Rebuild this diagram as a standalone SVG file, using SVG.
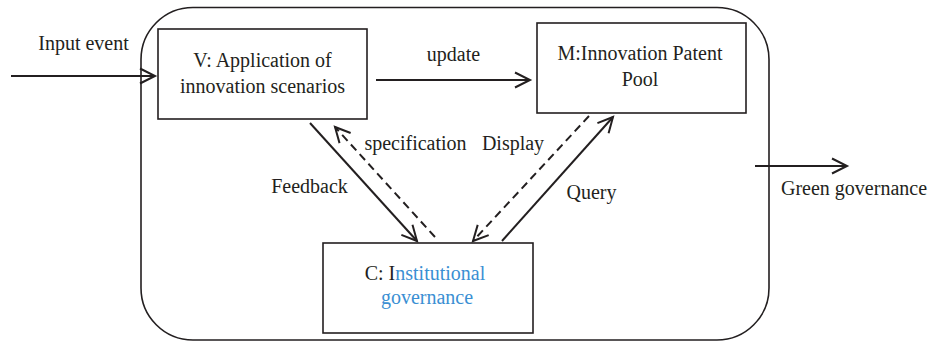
<svg xmlns="http://www.w3.org/2000/svg" width="932" height="345" viewBox="0 0 932 345">
  <style>
    .box { fill: #ffffff; stroke: #231f20; stroke-width: 1.6; }
    .frame { fill: none; stroke: #231f20; stroke-width: 1.6; }
    .t { font-family: "Liberation Serif", "Times New Roman", serif; font-size: 20px; fill: #231f20; text-anchor: middle; }
    .blue { fill: #3a8fd3; }
    .link { fill: none; stroke: #231f20; stroke-width: 2; marker-end: url(#open); }
    .dash { stroke-dasharray: 8 5; }
  </style>
  <defs>
    <marker id="open" markerUnits="userSpaceOnUse" markerWidth="20" markerHeight="20" viewBox="-17 -10 20 20" refX="0" refY="0" orient="auto">
      <path d="M-15,-7.5 L0,0 L-15,7.5" fill="none" stroke="#231f20" stroke-width="2" stroke-dasharray="none"/>
    </marker>
  </defs>

  <!-- system boundary -->
  <rect id="boundary" class="frame" x="141" y="7.5" width="628" height="332.5" rx="52" ry="52"/>

  <!-- connectors -->
  <g id="connectors">
    <line class="link" x1="11" y1="76" x2="155" y2="76"/>
    <line class="link" x1="376" y1="80" x2="530" y2="80"/>
    <line class="link" x1="310" y1="123" x2="417" y2="241"/>
    <line class="link dash" x1="435" y1="237" x2="335" y2="127"/>
    <line class="link dash" x1="589" y1="116" x2="473" y2="241"/>
    <line class="link" x1="502" y1="241" x2="613" y2="117"/>
    <line class="link" x1="755" y1="166" x2="847" y2="166"/>
  </g>

  <!-- connector labels -->
  <g id="labels">
    <text class="t" x="83.5" y="50">Input event</text>
    <text class="t" x="453.5" y="61">update</text>
    <text class="t" x="415.5" y="150">specification</text>
    <text class="t" x="513" y="150">Display</text>
    <text class="t" x="309.5" y="193">Feedback</text>
    <text class="t" x="591.5" y="199">Query</text>
    <text class="t" x="854" y="195">Green governance</text>
  </g>

  <g id="node-v">
    <rect class="box" x="158" y="29" width="209" height="90"/>
    <text class="t" x="262.5" y="67">V: Application of</text>
    <text class="t" x="262.5" y="93">innovation scenarios</text>
  </g>

  <g id="node-m">
    <rect class="box" x="537" y="23" width="209" height="90"/>
    <text class="t" x="640" y="60">M:Innovation Patent</text>
    <text class="t" x="640" y="86">Pool</text>
  </g>

  <g id="node-c">
    <rect class="box" x="323" y="243" width="210" height="90"/>
    <text class="t" x="425" y="280">C: I<tspan class="blue">nstitutional</tspan></text>
    <text class="t blue" x="427" y="304">governance</text>
  </g>
</svg>
